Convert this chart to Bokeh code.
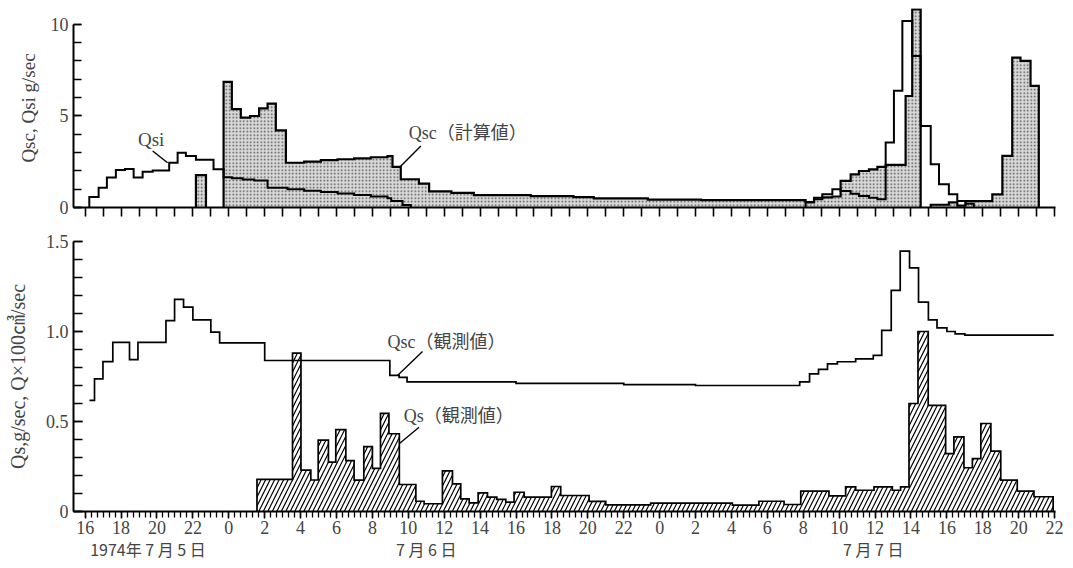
from bokeh.plotting import figure
from bokeh.models import Range1d, FixedTicker, LinearAxis, Label
from bokeh.layouts import column
from bokeh.embed import file_html
from bokeh.resources import INLINE

# ---------------- data: time in hours counted from 0:00 of 5 July 1974 ----------------
# Top panel, Qsi (step start times, values, end time)
qsi_a_t = [16.23, 16.75, 17.21, 17.71, 18.22, 18.70, 19.20, 19.76, 20.68, 21.15, 21.61, 22.17,
           23.15, 23.71, 24.17, 24.77, 25.42, 26.16, 27.27, 28.2, 29.13, 30.06, 30.98, 31.91,
           32.84, 33.05, 33.68]
qsi_a_v = [0.57, 1.08, 1.63, 2.05, 2.1, 1.63, 1.95, 2.02, 2.44, 2.99, 2.81, 2.6,
           2.08, 1.65, 1.6, 1.52, 1.47, 1.08, 1.0, 0.92, 0.85, 0.77, 0.68, 0.6,
           0.5, 0.35, 0.14]
qsi_a_end = 34.14
qsi_b_t = [56.13, 56.6, 57.06, 57.62, 58.08, 58.64, 59.1, 59.66, 60.13, 60.59, 61.05, 61.52,
           62.07, 62.54, 63.1, 63.56, 64.11, 64.58, 65.04]
qsi_b_v = [0.3, 0.53, 0.72, 0.99, 0.9, 0.75, 0.63, 0.53, 0.45, 3.54, 6.36, 10.17,
           8.26, 4.45, 2.36, 1.27, 0.72, 0.35, 0.2]
qsi_b_end = 65.5

# Top panel, Qsc (calculated)
qsc_a_t = [22.17]
qsc_a_v = [1.76]
qsc_a_end = 22.73
qsc_b_t = [23.71, 24.17, 24.67, 25.19, 25.69, 26.16, 26.62, 27.18, 28.2, 29.13, 30.06, 30.98,
           31.91, 32.84, 33.12, 33.58, 34.59, 35.16, 36.4, 37.65, 40.82, 43.2, 44.33, 47.34,
           50.3, 56.13, 56.6, 57.06, 57.62, 58.08, 58.64, 59.1, 59.66, 60.13, 60.59, 61.7, 62.07]
qsc_b_v = [6.85, 5.36, 4.9, 4.99, 5.41, 5.66, 4.21, 2.44, 2.5, 2.58, 2.63, 2.68,
           2.74, 2.8, 2.21, 1.54, 1.3, 0.88, 0.8, 0.68, 0.62, 0.57, 0.5, 0.43,
           0.4, 0.28, 0.45, 0.55, 0.6, 1.45, 1.81, 1.99, 2.08, 2.21, 2.32, 6.08, 10.8]
qsc_b_end = 62.54
qsc_c_t = [63.1, 64.11, 64.58, 65.04, 66.53, 67.09, 67.64, 68.1, 68.66]
qsc_c_v = [0.15, 0.28, 0.1, 0.35, 0.72, 2.81, 8.17, 7.99, 6.63]
qsc_c_end = 69.12

# Bottom panel, Qsc (observed)
qsco_t = [16.24, 16.52, 16.99, 17.54, 18.47, 18.94, 20.5, 20.98, 21.48, 22.0, 23.0, 23.49,
          26.0, 32.97, 33.49, 33.93, 40.0, 46.0, 50.0, 55.8, 56.35, 56.85, 57.35, 57.9,
          58.92, 59.9, 60.37, 60.9, 61.4, 61.92, 62.42, 62.97, 63.45, 64.0, 64.46, 65.0]
qsco_v = [0.617, 0.737, 0.833, 0.94, 0.844, 0.94, 1.06, 1.178, 1.135, 1.065, 0.996, 0.937,
          0.839, 0.756, 0.745, 0.72, 0.712, 0.705, 0.7, 0.72, 0.765, 0.79, 0.82, 0.832,
          0.848, 0.867, 1.006, 1.228, 1.446, 1.354, 1.163, 1.065, 1.02, 1.0, 0.987, 0.98]
qsco_end = 69.95

# Bottom panel, Qs (observed)
qs_t = [25.57, 27.55, 28.02, 28.57, 28.98, 29.55, 29.96, 30.52, 30.98, 31.52, 32.0, 32.45,
        32.92, 33.5, 34.42, 34.88, 35.9, 36.46, 36.92, 37.39, 37.89, 38.41, 38.93, 39.43,
        39.89, 40.45, 41.97, 42.49, 44.07, 45.0, 47.5, 52.05, 53.53, 54.93, 55.86, 57.43,
        58.36, 58.92, 59.94, 60.96, 61.42, 61.89, 62.39, 62.96, 63.93, 64.39, 64.95, 65.42,
        65.89, 66.45, 67.0, 67.92, 68.85]
qs_v = [0.178, 0.88, 0.23, 0.175, 0.396, 0.274, 0.455, 0.283, 0.174, 0.36, 0.24, 0.545,
        0.432, 0.15, 0.057, 0.043, 0.226, 0.154, 0.07, 0.048, 0.104, 0.08, 0.067, 0.052,
        0.107, 0.08, 0.139, 0.089, 0.056, 0.037, 0.046, 0.035, 0.057, 0.039, 0.113, 0.087,
        0.137, 0.118, 0.137, 0.118, 0.137, 0.6, 1.0, 0.59, 0.322, 0.415, 0.243, 0.294,
        0.489, 0.335, 0.174, 0.113, 0.082]
qs_end = 69.92

# axis ticks / labels
x_tick_hours = [16, 18, 20, 22, 24, 26, 28, 30, 32, 34, 36, 38, 40, 42, 44, 46, 48, 50, 52,
                54, 56, 58, 60, 62, 64, 66, 68, 70]
x_tick_labels = ["16", "18", "20", "22", "0", "2", "4", "6", "8", "10", "12", "14", "16", "18",
                 "20", "22", "0", "2", "4", "6", "8", "10", "12", "14", "16", "18", "20", "22"]
date_pos = [19.5, 35.0, 59.9]
date_labels = ["1974年 7 月 5 日", "7 月 6 日", "7 月 7 日"]

SERIF = "Liberation Serif"
MIX = "Liberation Serif, Noto Sans CJK JP"
XR = (15.35, 70.05)


def step_xy(t, v, end, close=True):
    xs, ys = [], []
    if close:
        xs.append(t[0]); ys.append(0.0)
    for i in range(len(t)):
        te = t[i + 1] if i + 1 < len(t) else end
        xs += [t[i], te]
        ys += [v[i], v[i]]
    if close:
        xs.append(end); ys.append(0.0)
    return xs, ys


def style_common(p):
    p.outline_line_color = None
    p.xgrid.visible = False
    p.ygrid.visible = False
    p.background_fill_color = "white"
    p.border_fill_color = "white"


# ---------------- top panel ----------------
top = figure(title=None, frame_width=982, frame_height=199, x_range=Range1d(*XR),
             y_range=Range1d(0, 10.85), output_backend="svg", toolbar_location=None,
             min_border_left=73, min_border_right=10, min_border_top=8, min_border_bottom=14)
style_common(top)

stip = dict(fill_color="#d9d9d9", hatch_pattern="dot", hatch_color="#444444", hatch_scale=3.5,
            hatch_weight=0.9, hatch_alpha=0.9)
for (t, v, e) in [(qsc_a_t, qsc_a_v, qsc_a_end), (qsc_b_t, qsc_b_v, qsc_b_end),
                  (qsc_c_t, qsc_c_v, qsc_c_end)]:
    xs, ys = step_xy(t, v, e)
    top.varea(x=xs, y1=[0.0] * len(xs), y2=ys, **stip)
for (t, v, e) in [(qsc_a_t, qsc_a_v, qsc_a_end), (qsc_b_t, qsc_b_v, qsc_b_end),
                  (qsc_c_t, qsc_c_v, qsc_c_end)]:
    xs, ys = step_xy(t, v, e)
    top.line(xs, ys, line_width=2.2, color="black", line_join="miter")
for (t, v, e) in [(qsi_a_t, qsi_a_v, qsi_a_end), (qsi_b_t, qsi_b_v, qsi_b_end)]:
    xs, ys = step_xy(t, v, e)
    top.line(xs, ys, line_width=2.0, color="black", line_join="miter")

xa = top.xaxis[0]
xa.ticker = FixedTicker(ticks=[], minor_ticks=list(range(16, 71)))
xa.axis_line_width = 2
xa.major_tick_in = 0
xa.major_tick_out = 12
xa.minor_tick_in = 0
xa.minor_tick_out = 9
xa.major_tick_line_width = 1.5
xa.minor_tick_line_width = 1.6

ya = top.yaxis[0]
ya.ticker = FixedTicker(ticks=[0, 5, 10], minor_ticks=list(range(0, 11)))
ya.bounds = (0, 10)
ya.axis_line_width = 2
ya.major_tick_in = 8
ya.major_tick_out = 0
ya.minor_tick_in = 8
ya.minor_tick_out = 0
ya.major_tick_line_width = 1.5
ya.minor_tick_line_width = 1.5
ya.major_label_text_font = SERIF
ya.major_label_text_font_size = "18px"
ya.major_label_standoff = 5
ya.axis_label = "Qsc, Qsi g/sec"
ya.axis_label_text_font = SERIF
ya.axis_label_text_font_style = "normal"
ya.axis_label_text_font_size = "19px"
ya.axis_label_standoff = 9

top.add_layout(Label(x=18.94, y=3.73, text="Qsi", text_font=SERIF, text_font_size="19px",
                     text_baseline="middle", text_align="left"))
top.line([19.76, 20.59], [3.08, 2.44], line_width=1.4, color="black")
top.add_layout(Label(x=34.03, y=4.06, text="Qsc（計算値）", text_font=MIX, text_font_size="18px",
                     text_baseline="middle", text_align="left"))
top.line([34.7, 33.49], [3.35, 2.17], line_width=1.4, color="black")

# ---------------- bottom panel ----------------
bot = figure(title=None, frame_width=982, frame_height=270, x_range=top.x_range,
             y_range=Range1d(0, 1.5), output_backend="svg", toolbar_location=None,
             min_border_left=73, min_border_right=10, min_border_top=20, min_border_bottom=0)
style_common(bot)

xs, ys = step_xy(qs_t, qs_v, qs_end)
bot.varea(x=xs, y1=[0.0] * len(xs), y2=ys, fill_color="white", hatch_pattern="/",
          hatch_color="black", hatch_scale=9, hatch_weight=1.2)
bot.line(xs, ys, line_width=1.7, color="black", line_join="miter")
xs, ys = step_xy(qsco_t, qsco_v, qsco_end, close=False)
bot.line(xs, ys, line_width=1.7, color="black", line_join="miter")

bx = bot.xaxis[0]
bx.ticker = FixedTicker(ticks=x_tick_hours, minor_ticks=[16 + k / 3 for k in range(163)])
bx.major_label_overrides = {h: s for h, s in zip(x_tick_hours, x_tick_labels)}
bx.axis_line_width = 2
bx.major_tick_in = 0
bx.major_tick_out = 7
bx.minor_tick_in = 0
bx.minor_tick_out = 6
bx.major_tick_line_width = 1.5
bx.minor_tick_line_width = 1.3
bx.major_label_text_font = SERIF
bx.major_label_text_font_size = "18px"
bx.major_label_standoff = 2

dax = LinearAxis(ticker=FixedTicker(ticks=date_pos, minor_ticks=[]),
                 major_label_overrides={p: s for p, s in zip(date_pos, date_labels)},
                 axis_line_color=None, major_tick_line_color=None, minor_tick_line_color=None,
                 major_tick_out=0, major_tick_in=0,
                 major_label_text_font="Noto Sans CJK JP", major_label_text_font_size="16px",
                 major_label_standoff=0)
bot.add_layout(dax, "below")

by = bot.yaxis[0]
by.ticker = FixedTicker(ticks=[0, 0.5, 1.0, 1.5], minor_ticks=[k / 10 for k in range(16)])
by.major_label_overrides = {0: "0", 0.5: "0.5", 1.0: "1.0", 1.5: "1.5"}
by.axis_line_width = 2
by.major_tick_in = 9
by.major_tick_out = 0
by.minor_tick_in = 9
by.minor_tick_out = 0
by.major_tick_line_width = 1.5
by.minor_tick_line_width = 1.5
by.major_label_text_font = SERIF
by.major_label_text_font_size = "18px"
by.major_label_standoff = 5
by.axis_label = "Qs,g/sec, Q×100㎤/sec"
by.axis_label_text_font = MIX
by.axis_label_text_font_style = "normal"
by.axis_label_text_font_size = "20px"
by.axis_label_standoff = 14

bot.add_layout(Label(x=32.84, y=0.944, text="Qsc（観測値）", text_font=MIX, text_font_size="18px",
                     text_baseline="middle", text_align="left"))
bot.line([34.79, 33.4], [0.889, 0.756], line_width=1.4, color="black")
bot.add_layout(Label(x=33.75, y=0.533, text="Qs（観測値）", text_font=MIX, text_font_size="18px",
                     text_baseline="middle", text_align="left"))
bot.line([34.6, 33.49], [0.468, 0.376], line_width=1.4, color="black")

layout = column(top, bot, spacing=0)
open("out.html", "w").write(file_html(layout, INLINE))
